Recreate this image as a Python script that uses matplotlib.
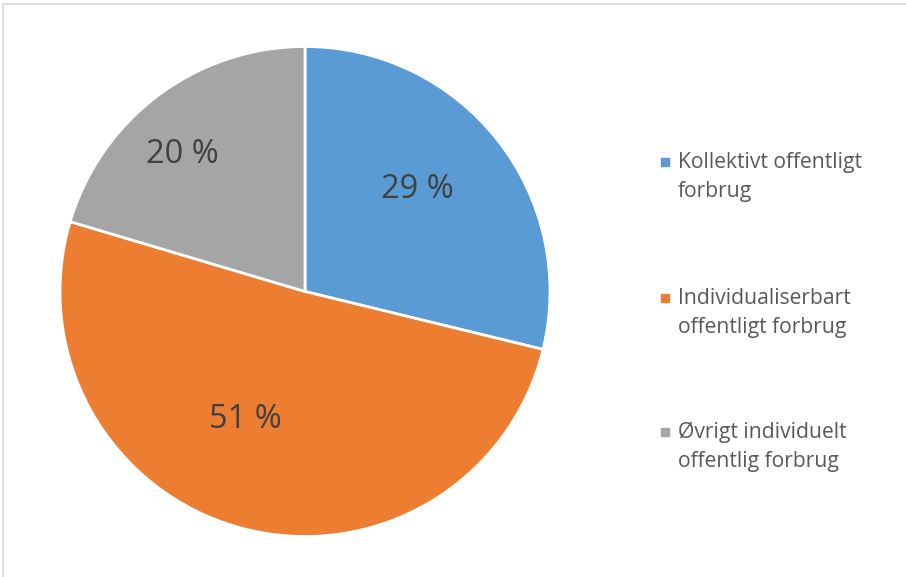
import numpy as np
import matplotlib.pyplot as plt
from matplotlib.patches import Rectangle

labels = ["Kollektivt offentligt\nforbrug",
          "Individualiserbart\noffentligt forbrug",
          "Øvrigt individuelt\noffentlig forbrug"]
shares = [28.8, 50.8, 20.4]
colors = ["#5B9BD5", "#ED7D31", "#A5A5A5"]

W, H = 906, 577
fig = plt.figure(figsize=(W / 100, H / 100), dpi=100)
plt.rcParams['font.family'] = ['Open Sans', 'DejaVu Sans']

# chart frame (top and left edges visible)
fig.patches.append(Rectangle((3 / W, -0.1), 1.2, 1 - 4 / H + 0.1, transform=fig.transFigure,
                             fill=False, ec="#D9D9D9", lw=1.2))

# pie area: centre (305, 291.5) px, radius 245 px
ax = fig.add_axes([60 / W, 1 - 536.5 / H, 490 / W, 490 / H])
wedges, texts, autotexts = ax.pie(
    shares, colors=colors, startangle=90, counterclock=False,
    autopct='%.0f %%', pctdistance=0.62, radius=1,
    wedgeprops=dict(edgecolor="white", linewidth=2),
    textprops=dict(fontsize=23.5, color="#404040"))
ax.set_xlim(-1, 1)
ax.set_ylim(-1, 1)

# nudge labels the way the original spreadsheet placed them
shift = [(4, 0.62), (-10, 0.575), (5, 0.75)]
for w, t, (da, r) in zip(wedges, autotexts, shift):
    a = np.deg2rad((w.theta1 + w.theta2) / 2 + da)
    t.set_position((r * np.cos(a), r * np.sin(a)))
    t.set_ha("center")
    t.set_va("center")

# legend
ys = [162, 298, 432]
for lab, c, y in zip(labels, colors, ys):
    fig.patches.append(Rectangle((661 / W, 1 - (y + 4) / H), 8 / W, 8 / H,
                                 transform=fig.transFigure, color=c))
    fig.text(678 / W, 1 - (y - 10) / H, lab, fontsize=15.2, color="#595959",
             va="top", ha="left", linespacing=1.5)

fig.savefig("out.png", dpi=100)
